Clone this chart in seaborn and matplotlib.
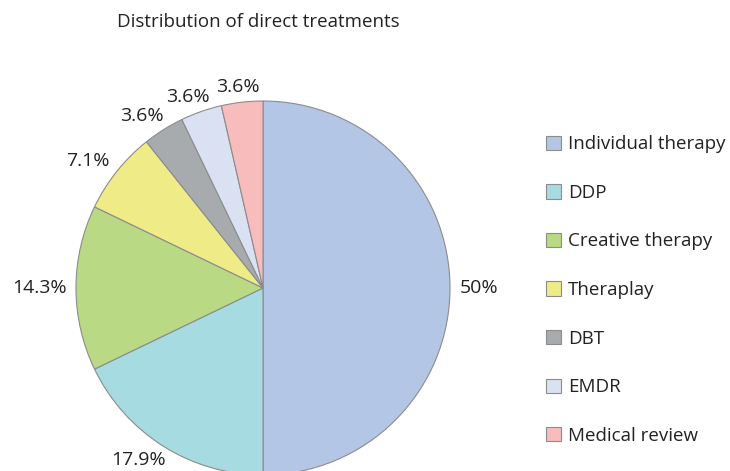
import matplotlib
matplotlib.use("Agg")
import matplotlib.pyplot as plt
import numpy as np
import seaborn as sns

sns.set_theme(style="white")
plt.rcParams['font.family'] = ['Open Sans', 'DejaVu Sans']

treatments = ['Individual therapy', 'DDP', 'Creative therapy', 'Theraplay',
              'DBT', 'EMDR', 'Medical review']
counts = [14, 5, 4, 2, 1, 1, 1]
hex_colors = ['#b3c6e5', '#a6dbe1', '#b9d984', '#efeb87',
              '#a8abae', '#d9e1f2', '#f8bcbd']
title = 'Distribution of direct treatments'


def pct_label(c, total):
	p = round(100 * c / total, 1)
	s = f"{p:.1f}"
	if s.endswith('.0'):
		s = s[:-2]
	return s + '%'


total = sum(counts)
labels = [pct_label(c, total) for c in counts]
palette = sns.color_palette(hex_colors)

fig = plt.figure(figsize=(7.3, 4.71), dpi=100)
radius_px = 187
ax = fig.add_axes([76 / 730, -4 / 471, 374 / 730, 374 / 471])
wedges, texts = ax.pie(counts, labels=labels, colors=palette, startangle=90,
                       counterclock=False, labeldistance=1.05,
                       wedgeprops=dict(edgecolor='#8c8c8c', linewidth=0.8),
                       textprops=dict(fontsize=14, color='#222222'))
ax.set_xlim(-1, 1)
ax.set_ylim(-1, 1)
ax.set_aspect('equal')
ax.axis('off')
for w in wedges:
	w.set_clip_on(False)

# shift each label off the rim by its own half size
fig.canvas.draw()
renderer = fig.canvas.get_renderer()
for w, t in zip(wedges, texts):
	ang = np.deg2rad((w.theta1 + w.theta2) / 2)
	c, s = np.cos(ang), np.sin(ang)
	bb = t.get_window_extent(renderer)
	hw = bb.width / 2 / radius_px
	hh = bb.height / 2 / radius_px * 0.6
	x = c * 1.05 + hw * np.clip(1.4 * c, -1, 1)
	y = s * 1.05 + hh * np.clip(1.4 * s, -1, 1)
	t.set_position((x, y))
	t.set_horizontalalignment('center')
	t.set_verticalalignment('center')

fig.text(258 / 730, 1 - 22 / 471, title, ha='center', va='center',
         fontsize=13.5, color='#222222')

fig.legend(wedges, treatments, loc='upper left', bbox_to_anchor=(529 / 730, 1 - 118.5 / 471),
           frameon=False, fontsize=13.5, labelspacing=1.63, handlelength=0.8,
           handleheight=0.8, handletextpad=0.4, labelcolor='#222222')

fig.savefig('out.png', dpi=100)
